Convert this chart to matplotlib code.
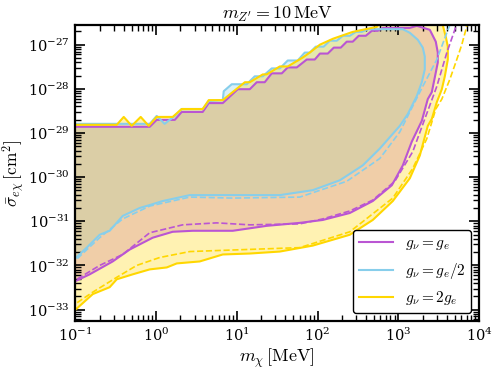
import matplotlib
matplotlib.use('Agg')
import matplotlib.pyplot as plt
import numpy as np

plt.rcParams['mathtext.fontset'] = 'cm'
plt.rcParams['font.family'] = 'serif'
plt.rcParams['font.serif'] = ['DejaVu Serif']

# closed contours: dark matter mass [MeV], cross section [cm^2]
m_ge = [0.085, 0.837, 1.02, 1.71, 2.08, 3.79, 4.50, 6.71, 10.3, 14.5, 17.7, 22.2, 27.1, 36.1,
        42.8, 55.3, 73.6, 92.5, 107, 134, 159, 194, 230, 273, 324, 396, 470, 557, 643, 1388,
        1694, 2455, 2911, 3083, 3083, 2832, 2600, 2318, 1955, 1469, 1137, 832, 483, 251, 116,
        60.3, 23.5, 8.92, 2.85, 1.61, 0.912, 0.473, 0.291, 0.151, 0.1, 0.085]
s_ge = [1.38e-29, 1.38e-29, 1.98e-29, 1.98e-29, 2.99e-29, 2.99e-29, 4.75e-29, 4.75e-29, 9.8e-29,
        9.8e-29, 1.41e-28, 1.41e-28, 2.24e-28, 2.24e-28, 3.05e-28, 3.05e-28, 4.61e-28, 4.61e-28,
        6.29e-28, 6.29e-28, 8.57e-28, 8.57e-28, 1.17e-27, 1.17e-27, 1.59e-27, 1.59e-27, 2.06e-27,
        2.06e-27, 2.40e-27, 2.40e-27, 2.67e-27, 2.17e-27, 1.17e-27, 6.62e-28, 3.95e-28, 1.82e-28,
        8.4e-29, 5.85e-29, 1.88e-29, 6.35e-30, 1.84e-30, 6.55e-31, 2.87e-31, 1.54e-31, 1.07e-31,
        9.2e-32, 7.88e-32, 6.09e-32, 6.09e-32, 5.78e-32, 4.25e-32, 2.29e-32, 1.23e-32, 6.28e-33,
        4.38e-33, 3.75e-33]

m_half = [0.085, 0.837, 1.02, 1.28, 1.71, 2.08, 3.79, 4.50, 6.71, 6.90, 8.67, 13.3, 16.7, 21.0,
          27.1, 34.1, 42.8, 56.9, 69.5, 80.2, 95.1, 119, 142, 173, 206, 251, 298, 353, 419, 1137,
          1388, 1743, 2011, 2128, 2128, 1955, 1694, 1312, 1045, 590, 363, 189, 87.3, 34.1, 8.92,
          2.62, 1.21, 0.837, 0.629, 0.387, 0.267, 0.201, 0.139, 0.1, 0.085]
s_half = [1.61e-29, 1.61e-29, 2.43e-29, 1.61e-29, 2.43e-29, 3.49e-29, 3.49e-29, 5.27e-29, 5.55e-29,
          8.83e-29, 1.27e-28, 1.27e-28, 1.92e-28, 1.92e-28, 2.90e-28, 2.90e-28, 4.38e-28, 4.38e-28,
          6.62e-28, 6.62e-28, 9.02e-28, 9.02e-28, 1.23e-27, 1.23e-27, 1.59e-27, 1.59e-27, 1.95e-27,
          1.95e-27, 2.24e-27, 2.24e-27, 1.86e-27, 1.29e-27, 8.57e-28, 5.38e-28, 2.75e-28, 1.41e-28,
          6.83e-29, 2.69e-29, 1.45e-29, 4.43e-30, 1.84e-30, 8.48e-31, 5.06e-31, 3.91e-31, 3.91e-31,
          3.91e-31, 2.87e-31, 2.33e-31, 2.0e-31, 1.32e-31, 6.09e-32, 4.95e-32, 2.53e-32, 1.44e-32,
          1.23e-32]

m_2ge = [0.085, 0.327, 0.399, 0.501, 0.647, 0.813, 1.02, 1.61, 2.08, 3.79, 4.50, 6.71, 12.6, 14.5,
         21.0, 23.5, 34.1, 42.8, 65.6, 80.2, 107, 155, 273, 542, 681, 3266, 3873, 4102, 4102, 3767,
         3459, 2999, 2600, 2318, 1846, 1388, 855, 483, 251, 87.3, 34.1, 14.5, 6.71, 3.48, 1.81,
         1.36, 0.837, 0.515, 0.327, 0.267, 0.165, 0.1, 0.085]
s_2ge = [1.53e-29, 1.53e-29, 2.31e-29, 1.45e-29, 2.31e-29, 1.45e-29, 2.31e-29, 2.31e-29, 3.49e-29,
         3.49e-29, 5.55e-29, 5.55e-29, 1.41e-28, 1.41e-28, 2.12e-28, 2.12e-28, 3.21e-28, 3.21e-28,
         5.11e-28, 6.62e-28, 1.0e-27, 1.36e-27, 1.95e-27, 2.53e-27, 5e-27, 5e-27, 1.51e-27, 9.02e-28,
         4.61e-28, 1.92e-28, 9.8e-29, 5.01e-29, 2.08e-29, 1.45e-29, 3.08e-30, 9.4e-31, 2.87e-31,
         1.07e-31, 4.95e-32, 2.81e-32, 2.06e-32, 1.86e-32, 1.77e-32, 1.23e-32, 1.11e-32, 9.0e-33,
         8.13e-33, 6.28e-33, 4.85e-33, 3.21e-33, 2.24e-33, 9.8e-34, 8.4e-34]

# dashed lower edges
md_ge = [0.085, 0.1, 0.201, 0.387, 0.837, 2.14, 5.65, 14.5, 60.3, 116, 251, 483, 906, 1512, 2128,
         2999, 3990, 5152, 5458]
sd_ge = [3.95e-33, 4.61e-33, 1.0e-32, 1.77e-32, 5.5e-32, 8.30e-32, 9.2e-32, 8.30e-32, 8.74e-32,
         1.13e-31, 1.71e-31, 3.02e-31, 8.05e-31, 3.79e-30, 2.08e-29, 1.14e-28, 6.62e-28, 2.53e-27,
         3.64e-27]

md_half = [0.085, 0.1, 0.201, 0.387, 0.837, 2.62, 8.92, 60.3, 230, 590, 1045, 1388, 2011, 2999,
           3990, 4603]
sd_half = [1.17e-32, 1.29e-32, 4.25e-32, 1.13e-31, 2.21e-31, 3.53e-31, 3.35e-31, 3.53e-31, 8.05e-31,
           2.64e-30, 1.06e-29, 2.99e-29, 1.14e-28, 4.61e-28, 1.86e-27, 3.64e-27]

md_2ge = [0.085, 0.1, 0.165, 0.327, 0.578, 1.11, 2.62, 5.65, 60.3, 251, 855, 1512, 2254, 2911, 3459,
          4345, 5297, 6109, 6855, 7261]
sd_2ge = [1.14e-33, 1.34e-33, 2.48e-33, 5.38e-33, 1.0e-32, 1.51e-32, 2.06e-32, 2.17e-32, 2.53e-32,
          5.78e-32, 3.35e-31, 1.58e-30, 7.41e-30, 3.49e-29, 5.85e-29, 1.64e-28, 4.61e-28, 1.0e-27,
          2.17e-27, 3.64e-27]

labels = [r'$g_\nu = g_e$', r'$g_\nu = g_e/2$', r'$g_\nu = 2g_e$']
colors = ['mediumorchid', 'skyblue', 'gold']

fig = plt.figure(figsize=(4.98, 3.72), dpi=100)
ax = fig.add_axes([0.151, 0.137, 0.811, 0.796])

contours = [(m_ge, s_ge), (m_half, s_half), (m_2ge, s_2ge)]
dashed = [(md_ge, sd_ge), (md_half, sd_half), (md_2ge, sd_2ge)]

for (m, s), c in zip(contours, colors):
    ax.fill(m, s, color=c, alpha=0.3, lw=0)
handles = []
for (m, s), c, lab in zip(contours, colors, labels):
    h, = ax.plot(list(m) + [m[0]], list(s) + [s[0]], color=c, lw=1.5, label=lab)
    handles.append(h)
for (m, s), c in zip(dashed, colors):
    ax.plot(m, s, color=c, lw=1.2, ls='--')

ax.set_xscale('log')
ax.set_yscale('log')
ax.set_xlim(1e-1, 1e4)
ax.set_ylim(5.5e-34, 2.8e-27)
ax.yaxis.set_major_locator(matplotlib.ticker.LogLocator(base=10, numticks=20))
ax.yaxis.set_minor_locator(matplotlib.ticker.LogLocator(base=10, subs=np.arange(2, 10), numticks=20))
ax.xaxis.set_minor_locator(matplotlib.ticker.LogLocator(base=10, subs=np.arange(2, 10), numticks=20))
ax.yaxis.set_minor_formatter(matplotlib.ticker.NullFormatter())
ax.xaxis.set_minor_formatter(matplotlib.ticker.NullFormatter())

ax.tick_params(which='both', direction='in', top=True, right=True, labelsize=10.5, pad=4)
ax.tick_params(which='major', length=7, width=1.2)
ax.tick_params(which='minor', length=4, width=1.0)
for sp in ax.spines.values():
    sp.set_linewidth(1.6)

ax.set_xlabel(r'$m_\chi\,[\mathrm{MeV}]$', fontsize=13, labelpad=2)
ax.set_ylabel(r'$\bar{\sigma}_{e\chi}\,[\mathrm{cm}^2]$', fontsize=12.5, labelpad=1)
ax.set_title(r"$m_{Z'} = 10\,\mathrm{MeV}$", fontsize=13, pad=4)

leg = ax.legend(handles=handles, loc='lower right', fontsize=11, fancybox=True,
                framealpha=1, edgecolor='black', handlelength=2.2, labelspacing=0.55,
                borderaxespad=0.5)
leg.get_frame().set_linewidth(1.0)

fig.savefig('out.png', dpi=100)
